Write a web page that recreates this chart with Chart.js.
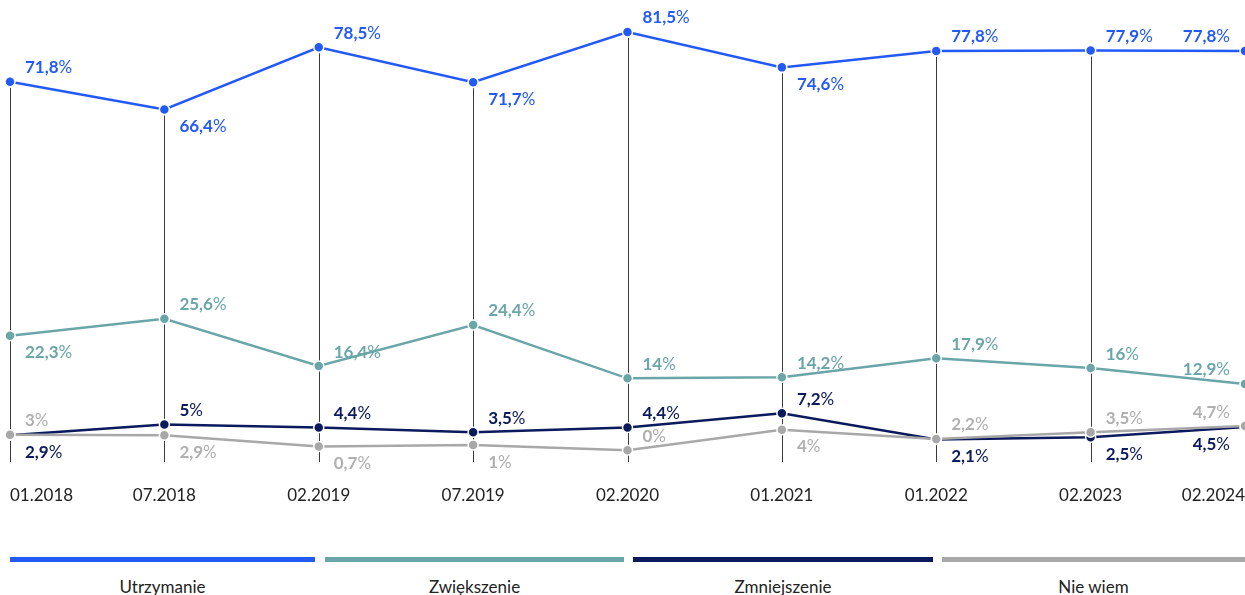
<!DOCTYPE html>
<html>
<head>
<meta charset="utf-8">
<script src="https://cdn.jsdelivr.net/npm/chart.js@4"></script>
<style>
  body { margin: 0; background: #fff; font-family: Lato, sans-serif; }
  .wrap { position: relative; width: 1245px; height: 595px; overflow: hidden; }
  #chart { position: absolute; left: 0; top: 0; }
  .legend { position: absolute; top: 557px; left: 0; width: 1245px; height: 40px; }
  .legend .item { position: absolute; top: 0; }
  .legend .bar { height: 5px; }
  .legend .label { text-align: center; font-size: 17px; color: #222; margin-top: 14px; }
</style>
</head>
<body>
<div class="wrap">
  <canvas id="chart" width="1245" height="520"></canvas>
  <div class="legend" id="legend"></div>
</div>
<script>
// data
const categories = ['01.2018', '07.2018', '02.2019', '07.2019', '02.2020', '01.2021', '01.2022', '02.2023', '02.2024'];
const utrzymanie = [71.8, 66.4, 78.5, 71.7, 81.5, 74.6, 77.8, 77.9, 77.8];
const zwiekszenie = [22.3, 25.6, 16.4, 24.4, 14, 14.2, 17.9, 16, 12.9];
const zmniejszenie = [2.9, 5, 4.4, 3.5, 4.4, 7.2, 2.1, 2.5, 4.5];
const nieWiem = [3, 2.9, 0.7, 1, 0, 4, 2.2, 3.5, 4.7];
const seriesNames = ['Utrzymanie', 'Zwiększenie', 'Zmniejszenie', 'Nie wiem'];

const colors = ['#2359f5', '#6aa6a8', '#0b1a5c', '#a8a8a8'];
const labelColors = ['#2359f5', '#6aa6a8', '#0b1a5c', '#b0b0b0'];

// label placement per series: 'a' above, 'b' below
const labelSide = [
  ['a', 'b', 'a', 'b', 'a', 'b', 'a', 'a', 'a'],
  ['b', 'a', 'a', 'a', 'a', 'a', 'a', 'a', 'a'],
  ['b', 'a', 'a', 'a', 'a', 'a', 'b', 'b', 'b'],
  ['a', 'b', 'b', 'b', 'a', 'b', 'a', 'a', 'a']
];

const fmt = v => String(v).replace('.', ',');

// vertical lines from top series down to the axis
const dropLines = {
  id: 'dropLines',
  beforeDatasetsDraw(chart) {
    const ctx = chart.ctx;
    const meta = chart.getDatasetMeta(0);
    const bottom = chart.chartArea.bottom;
    ctx.save();
    ctx.strokeStyle = '#3a3a3a';
    ctx.lineWidth = 1;
    meta.data.forEach(pt => {
      const x = Math.round(pt.x) + 0.5;
      ctx.beginPath();
      ctx.moveTo(x, pt.y + 6);
      ctx.lineTo(x, bottom);
      ctx.stroke();
    });
    ctx.restore();
  }
};

const valueLabels = {
  id: 'valueLabels',
  afterDatasetsDraw(chart) {
    const ctx = chart.ctx;
    ctx.save();
    ctx.textBaseline = 'middle';
    chart.data.datasets.forEach((ds, i) => {
      const meta = chart.getDatasetMeta(i);
      meta.data.forEach((pt, j) => {
        const num = fmt(ds.data[j]);
        const side = labelSide[i][j];
        const y = side === 'a' ? pt.y - 14 : pt.y + 17;
        ctx.font = 'bold 17px Lato';
        const w1 = ctx.measureText(num).width;
        ctx.font = '17px Lato';
        const w2 = ctx.measureText('%').width;
        let x = pt.x + 15;
        if (j === meta.data.length - 1) x = pt.x - 15 - w1 - w2;
        ctx.fillStyle = labelColors[i];
        ctx.textAlign = 'left';
        ctx.font = 'bold 17px Lato';
        ctx.fillText(num, x, y);
        ctx.font = '17px Lato';
        ctx.fillText('%', x + w1, y);
      });
    });
    ctx.restore();
  }
};

const makeSet = (label, data, i, order) => ({
  label: label,
  data: data,
  borderColor: colors[i],
  backgroundColor: colors[i],
  pointBackgroundColor: colors[i],
  pointBorderColor: '#fff',
  pointBorderWidth: 1.5,
  pointRadius: 5,
  pointHoverRadius: 5,
  borderWidth: 2.5,
  tension: 0,
  clip: false,
  order: order
});

new Chart(document.getElementById('chart'), {
  type: 'line',
  data: {
    labels: categories,
    datasets: [
      makeSet(seriesNames[0], utrzymanie, 0, 3),
      makeSet(seriesNames[1], zwiekszenie, 1, 2),
      makeSet(seriesNames[2], zmniejszenie, 2, 1),
      makeSet(seriesNames[3], nieWiem, 3, 0)
    ]
  },
  options: {
    responsive: false,
    animation: false,
    layout: { autoPadding: false, padding: { left: 10, right: 0, top: 14, bottom: 16 } },
    scales: {
      x: {
        offset: false,
        grid: { display: false, drawTicks: false },
        border: { display: false },
        ticks: {
          align: 'inner',
          padding: 23,
          color: '#222',
          font: { family: 'Lato', size: 17 },
          maxRotation: 0,
          autoSkip: false
        },
        afterFit(scale) {
          scale.height = 42;
          scale.paddingLeft = 0;
          scale.paddingRight = 0;
        }
      },
      y: {
        display: false,
        min: -2.3,
        max: 85
      }
    },
    plugins: {
      legend: { display: false },
      tooltip: { enabled: false }
    }
  },
  plugins: [dropLines, valueLabels]
});

// legend bars under the chart
const legendEl = document.getElementById('legend');
const legendLeft = [10, 325, 633, 942];
const legendRight = [315, 624, 933, 1245];
seriesNames.forEach((name, i) => {
  const item = document.createElement('div');
  item.className = 'item';
  item.style.left = legendLeft[i] + 'px';
  item.style.width = (legendRight[i] - legendLeft[i]) + 'px';
  item.innerHTML = '<div class="bar" style="background:' + colors[i] + '"></div><div class="label">' + name + '</div>';
  legendEl.appendChild(item);
});
</script>
</body>
</html>
